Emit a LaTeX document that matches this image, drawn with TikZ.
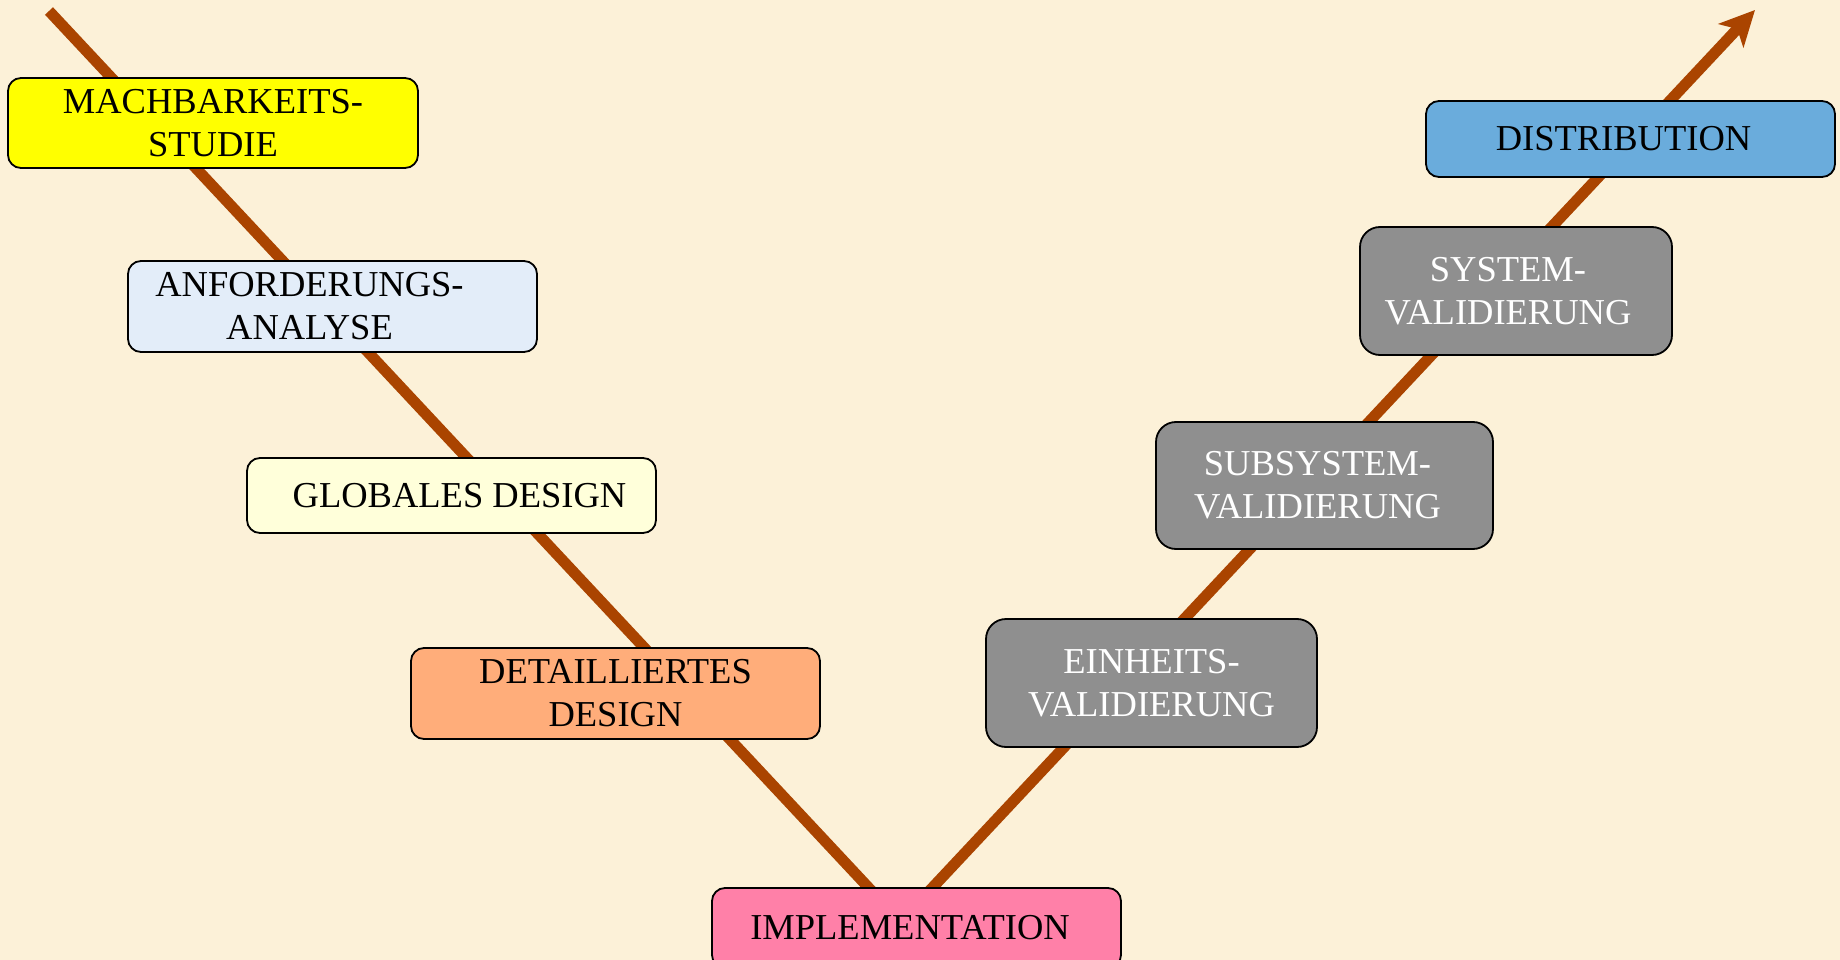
\documentclass[tikz,border=0pt]{standalone}
\usepackage{fontspec}
\setmainfont{Liberation Serif}
\usetikzlibrary{arrows.meta,backgrounds}
\definecolor{parch}{RGB}{252,241,216}
\definecolor{vline}{RGB}{170,68,0}
\definecolor{cyellow}{RGB}{255,255,0}
\definecolor{cblue}{RGB}{227,237,249}
\definecolor{cpale}{RGB}{255,255,218}
\definecolor{corange}{RGB}{255,173,122}
\definecolor{cpink}{RGB}{255,128,168}
\definecolor{cgrey}{RGB}{143,143,143}
\definecolor{cdist}{RGB}{106,172,220}
\begin{document}
\begin{tikzpicture}[x=1pt,y=-1pt,
  box/.style={draw=black, line width=1.8pt, rounded corners=13pt,
    font=\fontsize{36.5}{43}\selectfont, align=center, inner sep=0pt, text=black},
  greybox/.style={box, fill=cgrey, text=white, rounded corners=20pt},
  vstroke/.style={draw=vline, line width=11pt}]
\useasboundingbox (0,0) rectangle (1840,960);

\node[box, fill=cyellow, minimum width=410, minimum height=90] (mach) at (213,123)
  {MACHBARKEITS-\\STUDIE};
\node[box, fill=cblue, minimum width=409, minimum height=91] (anf) at (332.5,306.5)
  {ANFORDERUNGS-\hspace*{46pt}\\ANALYSE\hspace*{46pt}};
\node[box, fill=cpale, minimum width=409, minimum height=75] (glob) at (451.5,495.5)
  {\hspace*{16pt}GLOBALES DESIGN};
\node[box, fill=corange, minimum width=409, minimum height=91] (det) at (615.5,693.5)
  {DETAILLIERTES\\DESIGN};
\node[box, fill=cpink, minimum width=409, minimum height=80] (impl) at (916.5,928)
  {IMPLEMENTATION\hspace*{13pt}};
\node[greybox, minimum width=331, minimum height=128] (einh) at (1151.5,683)
  {EINHEITS-\\VALIDIERUNG};
\node[greybox, minimum width=337, minimum height=127] (subs) at (1324.5,485.5)
  {SUBSYSTEM-\hspace*{14pt}\\VALIDIERUNG\hspace*{14pt}};
\node[greybox, minimum width=312, minimum height=128] (syst) at (1516,291)
  {SYSTEM-\hspace*{16pt}\\VALIDIERUNG\hspace*{16pt}};
\node[box, fill=cdist, minimum width=409, minimum height=76] (dist) at (1630.5,139)
  {DISTRIBUTION\hspace*{14pt}};

\coordinate (vtop) at (49,11);
\coordinate (vtip) at (1755,10);

\begin{scope}[on background layer]
  \fill[parch] (0,0) rectangle (1840,960);
  \draw[vstroke] (vtop) -- ([shift={(-40,9)}]impl.north);
  \draw[vstroke, -{Stealth[length=35pt,width=34pt,inset=9pt]}]
    ([shift={(8,9)}]impl.north) -- (vtip);
\end{scope}
\end{tikzpicture}
\end{document}
